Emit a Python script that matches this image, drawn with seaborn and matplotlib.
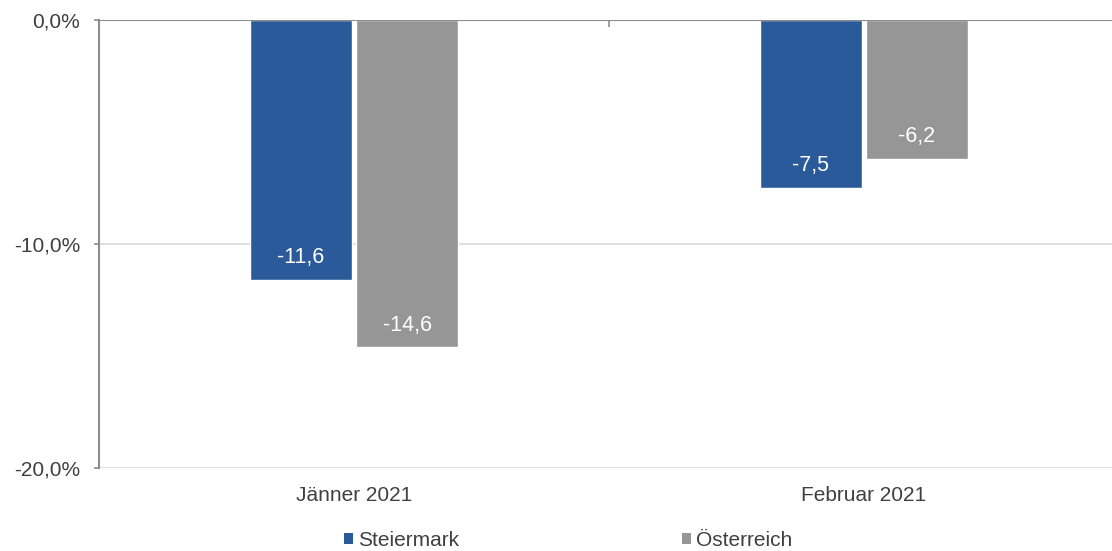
import matplotlib
matplotlib.use("Agg")
import matplotlib.pyplot as plt
import seaborn as sns
import pandas as pd
from matplotlib.ticker import FuncFormatter
from matplotlib.patches import Patch

# Data
categories = ["Jänner 2021", "Februar 2021"]
regions = ["Steiermark", "Österreich"]
steiermark = [-11.6, -7.5]
oesterreich = [-14.6, -6.2]
yticks = [0, -10, -20]

colors = {"Steiermark": "#2A5A9A", "Österreich": "#969696"}

df = pd.DataFrame({
    "Monat": categories * 2,
    "Region": [regions[0]] * 2 + [regions[1]] * 2,
    "Wert": steiermark + oesterreich,
})

sns.set_theme(style="white")
plt.rcParams["font.family"] = ["Liberation Sans", "DejaVu Sans"]
text_color = "#404040"
fs = 15

fig = plt.figure(figsize=(11.12, 5.51), dpi=100)
W, H = 1112, 551
ax = fig.add_axes([99 / W, (H - 468) / H, (1119 - 99) / W, (468 - 20) / H])

sns.barplot(data=df, x="Monat", y="Wert", hue="Region", order=categories,
            hue_order=regions, palette=colors, width=0.416, gap=0.035,
            saturation=1, ax=ax, legend=False)

ax.set_ylim(-20, 0)
ax.set_xlim(-0.5, 1.5)
ax.set_yticks(yticks)
ax.yaxis.set_major_formatter(FuncFormatter(lambda v, p: f"{v:.1f}%".replace(".", ",")))
ax.set_xlabel("")
ax.set_ylabel("")

# grid lines
for v in yticks[1:]:
    ax.axhline(v, color="#D9D9D9", lw=1.2, zorder=0)
ax.axhline(0, color="#8C8C8C", lw=1.5, zorder=3)

for s in ["top", "right", "bottom"]:
    ax.spines[s].set_visible(False)
ax.spines["left"].set_color("#8C8C8C")
ax.spines["left"].set_linewidth(1.5)

ax.tick_params(axis="y", left=True, length=3.6, width=1.2, color="#8C8C8C",
               labelsize=fs, labelcolor=text_color, pad=10)
ax.tick_params(axis="x", which="major", length=0, labelsize=fs,
               labelcolor=text_color, pad=13)
ax.set_xticks([0.5], minor=True)
ax.tick_params(axis="x", which="minor", top=True, bottom=False, direction="in",
               length=5, width=1.2, color="#8C8C8C")

# value labels
for container in ax.containers:
    for patch in container:
        h = patch.get_height()
        ax.annotate(f"{h:.1f}".replace(".", ","),
                    xy=(patch.get_x() + patch.get_width() / 2, h),
                    xytext=(0, 22), textcoords="offset pixels",
                    ha="center", va="center", color="white", fontsize=15.5)

# legend
handles = [Patch(facecolor=colors[r], edgecolor="none", label=r) for r in regions]
fig.legend(handles=handles, loc="center", bbox_to_anchor=(568 / W, (H - 540) / H),
           ncol=2, frameon=False, fontsize=fs, handlelength=0.43, handleheight=0.43,
           handletextpad=0.24, columnspacing=10.7, labelcolor=text_color,
           borderpad=0, borderaxespad=0)

fig.savefig("out.png", dpi=100)
